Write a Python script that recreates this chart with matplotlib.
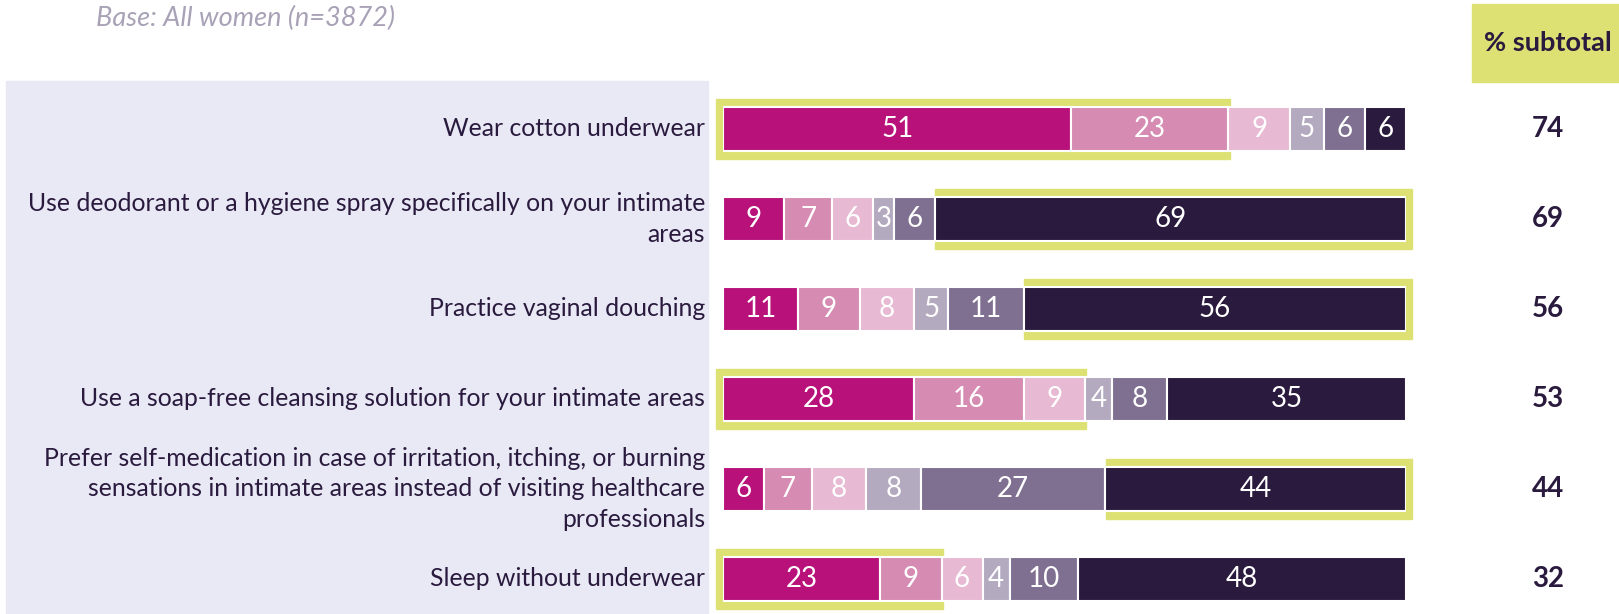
import matplotlib
matplotlib.use("Agg")
import matplotlib.pyplot as plt
from matplotlib.patches import Rectangle

# ----------------------------- DATA -----------------------------

statements = [
    "Wear cotton underwear",
    "Use deodorant or a hygiene spray specifically on your intimate\nareas",
    "Practice vaginal douching",
    "Use a soap-free cleansing solution for your intimate areas",
    "Prefer self-medication in case of irritation, itching, or burning\nsensations in intimate areas instead of visiting healthcare\nprofessionals",
    "Sleep without underwear",
]
seg1 = [51, 9, 11, 28, 6, 23]
seg2 = [23, 7, 9, 16, 7, 9]
seg3 = [9, 6, 8, 9, 8, 6]
seg4 = [5, 3, 5, 4, 8, 4]
seg5 = [6, 6, 11, 8, 27, 10]
seg6 = [6, 69, 56, 35, 44, 48]
subtotal = [74, 69, 56, 53, 44, 32]
# which segments (first, last index) form the subtotal in each row
highlight_first = [0, 5, 5, 0, 5, 0]
highlight_last = [1, 5, 5, 2, 5, 1]

base_text = "Base: All women (n=3872)"
subtotal_header = "% subtotal"

# ----------------------------- STYLE -----------------------------

seg_colors = ["#b8127a", "#d68bb2", "#e8b9d3", "#b4aabf", "#7f7091", "#2a1a3e"]
green = "#dde173"
lavender = "#e8e9f5"
dark = "#2a1a3e"
font = "Lato"

W, H = 1619, 614
fig = plt.figure(figsize=(W / 100, H / 100), dpi=100)

# left lavender panel and header box (figure pixels)
fig.patches.append(Rectangle((6 / W, 0), (708 - 6) / W, (H - 81) / H,
                             transform=fig.transFigure, color=lavender, zorder=-5))
fig.patches.append(Rectangle((1472 / W, (H - 82) / H), (W - 1472) / W, 78 / H,
                             transform=fig.transFigure, color=green, zorder=-5))
fig.text(1548 / W, 1 - 43 / H, subtotal_header, ha="center", va="center",
         fontsize=19.5, fontweight="bold", color=dark, family=font)
fig.text(96 / W, 1 - 18 / H, base_text, ha="left", va="center",
         fontsize=19.5, style="italic", color="#a9a2b7", family=font)

# bar axes: x 0..100 spans pixels 723..1406, rows 90 px apart
ax = fig.add_axes([723 / W, 0, 683 / W, 530 / H])
ax.set_xlim(0, 100)
ax.set_ylim(-0.5 + 530 / 90, -0.5)
ax.axis("off")
ax.patch.set_alpha(0)

px = 100 / 683
bar_h = 0.49
pad_y = 8 / 90

segments = [seg1, seg2, seg3, seg4, seg5, seg6]
for i in range(len(statements)):
    vals = [s[i] for s in segments]
    lefts = [sum(vals[:k]) for k in range(len(vals))]

    # green highlight frame behind the subtotal segments
    x0 = lefts[highlight_first[i]]
    x1 = lefts[highlight_last[i]] + vals[highlight_last[i]]
    x0 -= 7 * px if x0 == 0 else -0.2 * px
    x1 += 6 * px if x1 >= 99.9 else 1.5 * px
    ax.add_patch(Rectangle((x0, i - bar_h / 2 - pad_y), x1 - x0, bar_h + 2 * pad_y,
                           color=green, zorder=1, clip_on=False))

    ax.barh(i, vals, left=lefts, height=bar_h, color=seg_colors,
            edgecolor="white", linewidth=1.5, zorder=2)
    for v, l in zip(vals, lefts):
        ax.text(l + v / 2, i, str(v), ha="center", va="center", color="white",
                fontsize=20, family=font, zorder=3)

    ax.text(-2.6, i, statements[i], ha="right", va="center", color=dark,
            fontsize=17.8, family=font, linespacing=1.42, clip_on=False)
    ax.text(120.8, i, str(subtotal[i]), ha="center", va="center", color=dark,
            fontsize=20, fontweight="bold", family=font, clip_on=False)

fig.savefig("out.png", dpi=100)
